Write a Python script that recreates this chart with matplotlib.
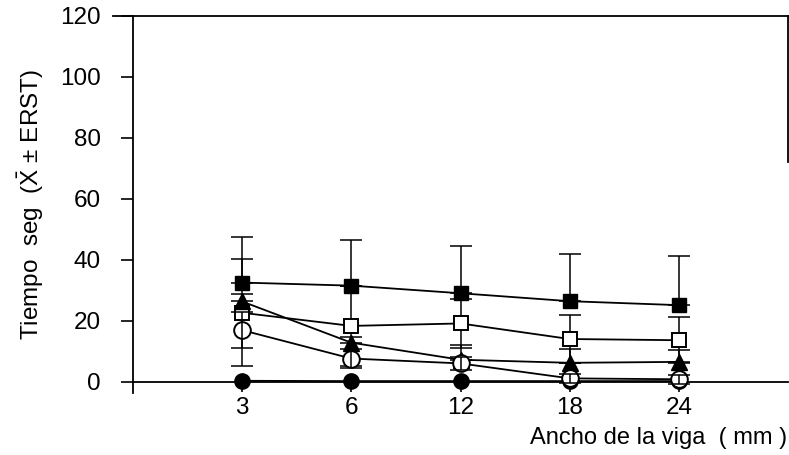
import matplotlib
matplotlib.use("Agg")
import matplotlib.pyplot as plt
import numpy as np

plt.rcParams['font.family'] = ['Liberation Sans', 'DejaVu Sans']
plt.rcParams['mathtext.fontset'] = 'custom'
plt.rcParams['mathtext.rm'] = 'Liberation Sans'
plt.rcParams['mathtext.it'] = 'Liberation Sans'

categories = ["3", "6", "12", "18", "24"]

filled_sq = [32.5, 31.5, 29.0, 26.4, 25.1]
filled_sq_err_up = [15.0, 15.0, 15.5, 15.6, 16.0]

open_sq = [22.6, 18.3, 19.1, 14.0, 13.6]
open_sq_err = [17.5, 13.0, 8.0, 8.0, 7.5]

triangle = [26.3, 12.8, 7.2, 6.2, 6.5]
triangle_err = [2.5, 2.0, 5.0, 4.5, 4.0]

open_circ = [16.9, 7.6, 6.0, 1.1, 0.8]
open_circ_err = [6.0, 3.0, 2.0, 1.5, 1.5]

filled_circ = [0.3, 0.2, 0.2, 0.2, 0.2]

y_ticks = [0, 20, 40, 60, 80, 100, 120]

fig = plt.figure(figsize=(7.89, 4.55), dpi=100)
ax = fig.add_axes([133 / 789, 1 - 393 / 455, 655 / 789, (393 - 15.7) / 455])

x = np.arange(1, len(categories) + 1)
lw = 1.3
ebkw = dict(ecolor='black', elinewidth=1.1, capsize=8, capthick=1.1)

# error bars
ax.errorbar(x, filled_sq, yerr=[np.zeros(5), filled_sq_err_up], fmt='none',
            zorder=2, **ebkw)
ax.errorbar(x, open_sq, yerr=open_sq_err, fmt='none', zorder=2, **ebkw)
ax.errorbar(x, triangle, yerr=[np.zeros(5), triangle_err], fmt='none',
            zorder=2, **ebkw)

# series
ax.plot(x, filled_circ, '-', color='black', lw=lw, marker='o', ms=11,
        mfc='black', mec='black', zorder=3)
ax.plot(x, filled_sq, '-', color='black', lw=lw, marker='s', ms=10,
        mfc='black', mec='black', zorder=4)
ax.plot(x, open_sq, '-', color='black', lw=lw, marker='s', ms=10,
        mfc='white', mec='black', mew=1.4, zorder=4)
ax.plot(x, triangle, '-', color='black', lw=lw, marker='^', ms=11,
        mfc='black', mec='black', zorder=5)
ax.plot(x, open_circ, '-', color='black', lw=lw, marker='o', ms=12,
        mfc='white', mec='black', mew=1.4, zorder=5)
ax.errorbar(x, open_circ, yerr=open_circ_err, fmt='none', zorder=6, **ebkw)

ax.set_xlim(0, 6)
ax.set_ylim(-3.7, 120)
ax.set_xticks(x)
ax.set_xticklabels(categories)
ax.set_yticks(y_ticks)

for s in ['left', 'top', 'right', 'bottom']:
    ax.spines[s].set_linewidth(1.3)
ax.spines['bottom'].set_position(('data', 0))
ax.spines['right'].set_bounds(72, 120)
ax.plot([-0.031, 0], [1, 1], transform=ax.transAxes, color='black',
        lw=1.3, clip_on=False)

ax.tick_params(axis='y', direction='out', length=9, width=1.2, pad=14,
               labelsize=17.5)
ax.tick_params(axis='x', direction='out', length=7, width=1.2, pad=4,
               labelsize=17.5)

ax.set_ylabel(r"Tiempo  seg  ($\bar{\mathrm{X}}$ ± ERST)", fontsize=17.5,
              labelpad=10)
fig.text(787 / 789, 1 - 438 / 455, "Ancho de la viga  ( mm )", ha='right',
         va='center', fontsize=17)

fig.savefig("out.png", dpi=100)
